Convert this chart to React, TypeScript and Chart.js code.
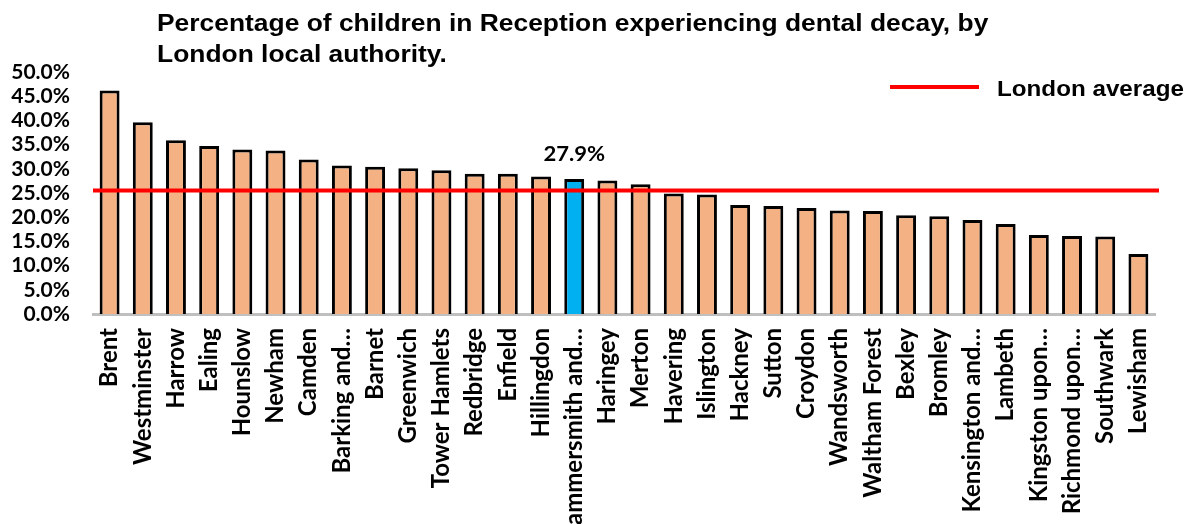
import React, { useEffect, useRef } from "react";
import { Chart, registerables } from "chart.js";

Chart.register(...registerables);

const TITLE_LINES = [
  "Percentage of children in Reception experiencing dental decay, by",
  "London local authority.",
];
const LEGEND_LABEL = "London average";

const CATEGORIES = [
  "Brent", "Westminster", "Harrow", "Ealing", "Hounslow", "Newham", "Camden",
  "Barking and…", "Barnet", "Greenwich", "Tower Hamlets", "Redbridge", "Enfield",
  "Hillingdon", "Hammersmith and…", "Haringey", "Merton", "Havering", "Islington",
  "Hackney", "Sutton", "Croydon", "Wandsworth", "Waltham Forest", "Bexley",
  "Bromley", "Kensington and…", "Lambeth", "Kingston upon…", "Richmond upon…",
  "Southwark", "Lewisham",
];
const VALUES = [
  46.2, 39.6, 35.9, 34.7, 34.0, 33.8, 31.9, 30.7, 30.4, 30.1, 29.7, 29.0, 29.0,
  28.4, 27.9, 27.6, 26.8, 24.9, 24.7, 22.5, 22.3, 21.9, 21.4, 21.3, 20.4, 20.2,
  19.4, 18.6, 16.3, 16.1, 16.0, 12.4,
];
const HIGHLIGHT = "Hammersmith and…";
const LONDON_AVERAGE = 25.5;
const Y_TICKS = [0, 5, 10, 15, 20, 25, 30, 35, 40, 45, 50];

const BAR_COLOR = "#F4B183";
const HIGHLIGHT_COLOR = "#00B0F0";
const LINE_COLOR = "#FF0000";

function drawStretched(ctx: CanvasRenderingContext2D, text: string, x: number, y: number, sx: number) {
  ctx.save();
  ctx.translate(x, y);
  ctx.scale(sx, 1);
  ctx.fillText(text, 0, 0);
  ctx.restore();
}

const overlayPlugin = {
  id: "overlay",
  afterDatasetsDraw(chart: any) {
    const { ctx, chartArea, scales } = chart;
    const y = scales.y.getPixelForValue(LONDON_AVERAGE);
    ctx.save();
    ctx.strokeStyle = LINE_COLOR;
    ctx.lineWidth = 4;
    ctx.beginPath();
    ctx.moveTo(chartArea.left, y);
    ctx.lineTo(chartArea.right + 4, y);
    ctx.stroke();

    const idx = CATEGORIES.indexOf(HIGHLIGHT);
    const meta = chart.getDatasetMeta(0);
    const bar = meta.data[idx];
    if (bar) {
      ctx.fillStyle = "#000";
      ctx.font = "bold 21px Lato";
      ctx.textAlign = "center";
      ctx.textBaseline = "middle";
      drawStretched(ctx, VALUES[idx].toFixed(1) + "%", bar.x, bar.y - 25, 1.05);
    }

    ctx.fillStyle = "#000";
    ctx.textAlign = "left";
    ctx.textBaseline = "alphabetic";
    ctx.font = "bold 24px 'Liberation Sans', Arial";
    drawStretched(ctx, TITLE_LINES[0], 157, 31, 1.1);
    drawStretched(ctx, TITLE_LINES[1], 157, 62, 1.1);

    ctx.strokeStyle = LINE_COLOR;
    ctx.lineWidth = 4;
    ctx.beginPath();
    ctx.moveTo(890, 87);
    ctx.lineTo(979, 87);
    ctx.stroke();
    ctx.font = "bold 22px 'Liberation Sans', Arial";
    drawStretched(ctx, LEGEND_LABEL, 997, 96, 1.1);
    ctx.restore();
  },
};

export default function App() {
  const canvasRef = useRef<HTMLCanvasElement | null>(null);

  useEffect(() => {
    const canvas = canvasRef.current;
    if (!canvas) return;
    const chart = new Chart(canvas, {
      type: "bar",
      data: {
        labels: CATEGORIES,
        datasets: [
          {
            label: "Percentage",
            data: VALUES,
            backgroundColor: CATEGORIES.map((c) => (c === HIGHLIGHT ? HIGHLIGHT_COLOR : BAR_COLOR)),
            borderColor: "#000000",
            borderWidth: 3,
            categoryPercentage: 1,
            barPercentage: 0.6,
          },
        ],
      },
      options: {
        animation: false,
        responsive: true,
        maintainAspectRatio: false,
        layout: { padding: { top: 72, right: 39, left: 0, bottom: 0 } },
        plugins: {
          legend: { display: false },
          title: { display: false },
          tooltip: { enabled: false },
        },
        scales: {
          x: {
            grid: { display: false, drawTicks: false },
            border: { display: true, color: "#BFBFBF", width: 3 },
            ticks: {
              autoSkip: false,
              maxRotation: 90,
              minRotation: 90,
              padding: 14,
              color: "#000",
              font: { family: "Lato", weight: "bold", size: 24 },
            },
            afterFit: (scale: any) => {
              scale.height = 210;
            },
          },
          y: {
            min: 0,
            max: 50,
            afterBuildTicks: (scale: any) => {
              scale.ticks = Y_TICKS.map((v) => ({ value: v }));
            },
            grid: { display: false, drawTicks: false },
            border: { display: false },
            ticks: {
              autoSkip: false,
              padding: 23,
              color: "#000",
              font: { family: "Lato", weight: "bold", size: 21 },
              callback: (v: any) => Number(v).toFixed(1) + "%",
            },
            afterFit: (scale: any) => {
              scale.width = 93;
            },
          },
        },
      },
      plugins: [overlayPlugin],
    });
    return () => chart.destroy();
  }, []);

  return (
    <div style={{ position: "fixed", left: 0, top: 0, width: 1194, height: 524, background: "#fff" }}>
      <canvas ref={canvasRef} />
    </div>
  );
}
